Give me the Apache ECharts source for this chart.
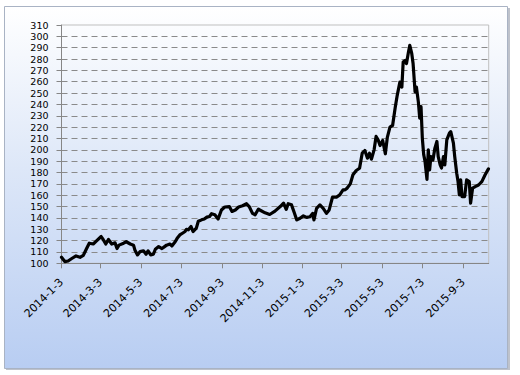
<!DOCTYPE html>
<html>
<head>
<meta charset="utf-8">
<script src="https://cdn.jsdelivr.net/npm/echarts@6/dist/echarts.min.js"></script>
<style>html,body{margin:0;padding:0;background:#fff;}#c{width:520px;height:375px;}</style>
</head>
<body>
<div id="c"></div>
<script>
const dates = [
'2014-01-03','2014-01-08','2014-01-13','2014-01-18','2014-01-25','2014-01-31',
'2014-02-05','2014-02-10','2014-02-14','2014-02-20','2014-02-25',
'2014-03-04','2014-03-07','2014-03-11','2014-03-15','2014-03-20','2014-03-25','2014-03-28','2014-03-31',
'2014-04-07','2014-04-11','2014-04-17','2014-04-22','2014-04-24','2014-04-28',
'2014-05-02','2014-05-07','2014-05-11','2014-05-14','2014-05-18','2014-05-22','2014-05-25','2014-05-30',
'2014-06-04','2014-06-08','2014-06-11','2014-06-16','2014-06-19','2014-06-24','2014-06-27',
'2014-07-01','2014-07-05','2014-07-09','2014-07-11','2014-07-14','2014-07-18','2014-07-21','2014-07-26','2014-07-29',
'2014-08-03','2014-08-07','2014-08-11','2014-08-15','2014-08-18','2014-08-23','2014-08-28',
'2014-09-02','2014-09-07','2014-09-14','2014-09-18','2014-09-23','2014-09-28',
'2014-10-04','2014-10-10','2014-10-14','2014-10-19','2014-10-23','2014-10-28','2014-10-30',
'2014-11-07','2014-11-14','2014-11-22','2014-11-30',
'2014-12-05','2014-12-09','2014-12-12','2014-12-17','2014-12-21','2014-12-25','2014-12-30',
'2015-01-04','2015-01-09','2015-01-14','2015-01-18','2015-01-20','2015-01-24','2015-01-29',
'2015-02-03','2015-02-08','2015-02-12','2015-02-17','2015-02-23','2015-02-28',
'2015-03-05','2015-03-08','2015-03-11','2015-03-16','2015-03-20','2015-03-25','2015-03-30',
'2015-04-03','2015-04-07','2015-04-11','2015-04-14','2015-04-17','2015-04-21','2015-04-24','2015-04-27','2015-04-30',
'2015-05-04','2015-05-08','2015-05-11','2015-05-15','2015-05-19','2015-05-23','2015-05-26','2015-05-30',
'2015-06-02','2015-06-04','2015-06-07','2015-06-09','2015-06-12','2015-06-14','2015-06-17','2015-06-19','2015-06-22','2015-06-24','2015-06-27','2015-06-29',
'2015-07-01','2015-07-03','2015-07-05','2015-07-07','2015-07-10','2015-07-12','2015-07-14','2015-07-16','2015-07-19','2015-07-22','2015-07-25','2015-07-27','2015-07-30',
'2015-08-01','2015-08-04','2015-08-06','2015-08-09','2015-08-13','2015-08-15','2015-08-19','2015-08-21','2015-08-24','2015-08-26','2015-08-28','2015-08-30',
'2015-09-01','2015-09-05','2015-09-08','2015-09-12','2015-09-14','2015-09-17','2015-09-21','2015-09-26',
'2015-10-01','2015-10-06','2015-10-11'
];
const values = [
105.3,101.5,102,104,106.5,105.3,
107,113,117.7,117,119.8,
123.6,121,117,121,117,118,113,116,
117.7,119,117,116,111.8,107.4,
110.3,111,108,111,107.4,108,112.4,114.7,
113,114.7,116,117,115.3,119,122,
125,126.5,128,130,129.5,132.4,128,131,137,
138.3,139,140.7,141.3,143.7,142.8,139,
147,149.6,150,145.7,147,149.6,
150.7,152.5,150,144,142.8,147.8,147,
144.5,143,146,150,
153,147.5,152.5,151.5,145,138.2,139.7,
141.8,140.5,141,144,138.2,148.5,151.5,
148.5,144,147,158.2,158.2,160.3,
164.7,164.7,166.2,170,178,181.8,183.8,
197,199.4,192.6,197,191.8,200,211.8,208.8,203.8,
208.2,196.5,211,220,221.5,237.6,248,259.7,
255.3,277.4,278.8,276,286.2,292,284.7,276,251,255.3,242,228,
238,210,196,190,174,200,182.4,194,191,201.5,207.4,194,186.8,
184,194,186.8,208.8,214.7,216,205.9,194,179.4,172,160.3,173.5,
158.8,158.8,173.5,172,153,166.2,167.6,169,
172,178,183.2
];
const xTickDates = ['2014-01-03','2014-03-03','2014-05-03','2014-07-03','2014-09-03','2014-11-03',
  '2015-01-03','2015-03-03','2015-05-03','2015-07-03','2015-09-03'];
const xMin = '2014-01-03';
const xMax = '2015-10-11';
const yMin = 100, yMax = 310, yStep = 10;

const DAY = 86400000;
const parseD = s => { const p = s.split('-').map(Number); return Date.UTC(p[0], p[1]-1, p[2]); };
const tickVals = xTickDates.map(parseD);
const data = dates.map((d, i) => [parseD(d), values[i]]);
const nLines = (yMax - yMin) / yStep + 1;
const splitColors = [];
for (let i = 0; i < nLines; i++) splitColors.push(i === 0 || i === nLines - 1 ? 'rgba(0,0,0,0)' : '#8a8a8a');

const chart = echarts.init(document.getElementById('c'), null, {renderer: 'svg'});
chart.setOption({
  backgroundColor: '#ffffff',
  animation: false,
  graphic: [
    {type: 'rect', left: 6, top: 8, silent: true, z: -1,
     shape: {width: 504, height: 362},
     style: {fill: 'rgba(110,120,140,0.45)'}},
    {type: 'rect', left: 4, top: 6, silent: true, z: -1,
     shape: {width: 503, height: 362},
     style: {
       fill: new echarts.graphic.LinearGradient(0, 0, 0, 1, [
         {offset: 0, color: '#ffffff'}, {offset: 0.45, color: '#dde7f8'}, {offset: 1, color: '#b8cdf2'}
       ]),
       stroke: '#a9b3c4', lineWidth: 1
     }}
  ],
  grid: {left: 61.5, right: 31.3, top: 25, bottom: 111.7, show: true, borderColor: '#bfbfbf', borderWidth: 1, backgroundColor: 'transparent'},
  xAxis: {
    type: 'value', min: parseD(xMin), max: parseD(xMax) + 0.4 * DAY,
    axisLine: {show: true, lineStyle: {color: '#868686', width: 1}},
    axisTick: {show: true, length: 5, customValues: tickVals, lineStyle: {color: '#868686'}},
    splitLine: {show: false},
    axisLabel: {
      customValues: tickVals, rotate: 45, margin: 17, color: '#000',
      fontFamily: 'DejaVu Sans', fontSize: 11,
      formatter: v => { const d = new Date(v); return d.getUTCFullYear() + '-' + (d.getUTCMonth() + 1) + '-' + d.getUTCDate(); }
    }
  },
  yAxis: {
    type: 'value', min: yMin, max: yMax, interval: yStep,
    axisLine: {show: true, lineStyle: {color: '#868686', width: 1}},
    axisTick: {show: true, length: 5, lineStyle: {color: '#868686'}},
    axisLabel: {color: '#000', fontFamily: 'DejaVu Sans', fontSize: 9.5, lineHeight: 10, margin: 13},
    splitLine: {show: true, lineStyle: {color: splitColors, type: [6, 4], width: 1}}
  },
  series: [{
    type: 'line', data: data, showSymbol: false, symbol: 'none',
    lineStyle: {color: '#000', width: 3.2, join: 'round', cap: 'round'},
    z: 5
  }]
});
</script>
</body>
</html>
